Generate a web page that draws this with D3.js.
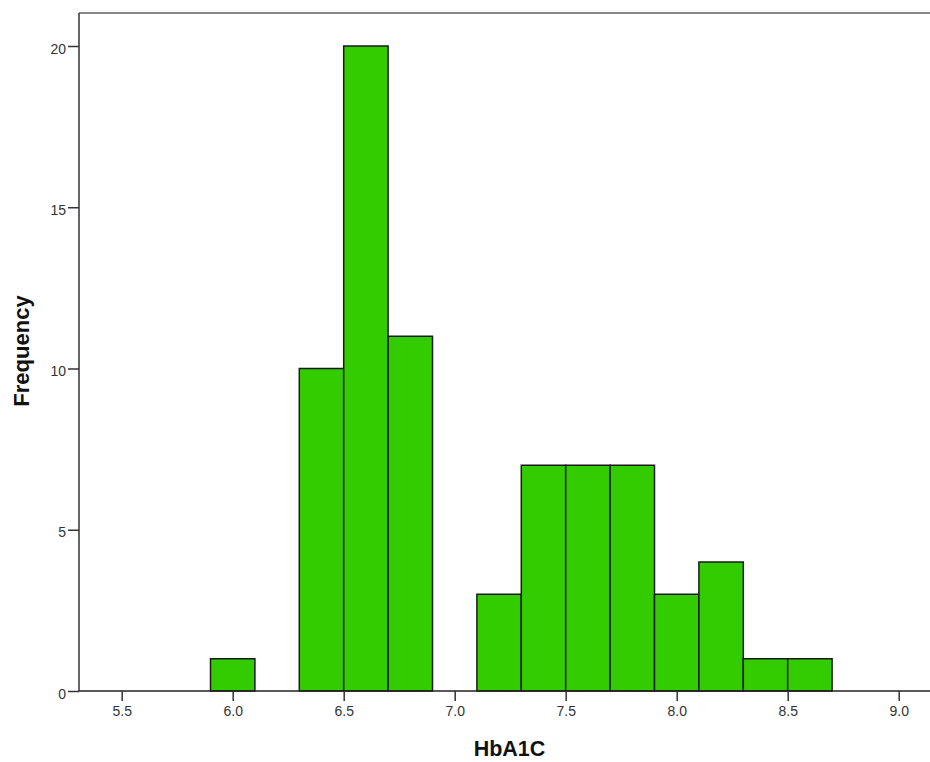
<!DOCTYPE html>
<html><head><meta charset="utf-8">
<script src="https://cdn.jsdelivr.net/npm/d3@7"></script>
<style>body{margin:0;background:#fff}svg{display:block}</style>
</head><body>
<svg id="c" width="930" height="762"></svg>
<script>
const binStarts = [5.9, 6.3, 6.5, 6.7, 7.1, 7.3, 7.5, 7.7, 7.9, 8.1, 8.3, 8.5];
const binWidth = 0.2;
const frequencies = [1, 10, 20, 11, 3, 7, 7, 7, 3, 4, 1, 1];
const xTicks = [5.5, 6.0, 6.5, 7.0, 7.5, 8.0, 8.5, 9.0];
const yTicks = [0, 5, 10, 15, 20];

(function () {
const svg = d3.select("#c");
const x = d3.scaleLinear().domain([5.5, 9.0]).range([121.7, 898.7]);
const y = d3.scaleLinear().domain([0, 20]).range([691, 46]);
const pL = 79, pT = 13, pR = 930, pB = 691;
const tickFont = "14px 'Liberation Sans', Arial, sans-serif";

// frame top
svg.append("line").attr("x1", pL).attr("x2", pR).attr("y1", pT).attr("y2", pT)
  .attr("stroke", "#888").attr("stroke-width", 2);

// bars
svg.append("g").selectAll("rect").data(binStarts).join("rect")
  .attr("x", d => x(d)).attr("width", d => x(d + binWidth) - x(d))
  .attr("y", (d, i) => y(frequencies[i])).attr("height", (d, i) => y(0) - y(frequencies[i]))
  .attr("fill", "#33cc00").attr("stroke", "#1a1a1a").attr("stroke-width", 1.5);

// y axis
const ya = svg.append("g").attr("transform", `translate(${pL},0)`)
  .call(d3.axisLeft(y).tickValues(yTicks).tickSize(11).tickPadding(2).tickFormat(d3.format("d")));
ya.select(".domain").attr("d", `M0,${pT}V${pB}`).attr("stroke", "#333").attr("stroke-width", 1.5);
ya.selectAll(".tick line").attr("stroke", "#333").attr("stroke-width", 1.5);
ya.selectAll(".tick text").attr("fill", "#333").attr("dy", "0.5em").style("font", tickFont);

// x axis
const xa = svg.append("g").attr("transform", `translate(0,${pB})`)
  .call(d3.axisBottom(x).tickValues(xTicks).tickSize(10).tickPadding(5).tickFormat(d3.format(".1f")));
xa.select(".domain").attr("d", `M${pL},0H${pR}`).attr("stroke", "#222").attr("stroke-width", 1.5);
xa.selectAll(".tick line").attr("stroke", "#333").attr("stroke-width", 1.5);
xa.selectAll(".tick text").attr("fill", "#333").style("font", tickFont);

// titles
svg.append("text").attr("x", 509.5).attr("y", 755.5).attr("text-anchor", "middle")
  .style("font", "bold 21.5px 'Liberation Sans', Arial, sans-serif").attr("fill", "#111").text("HbA1C");
svg.append("text").attr("transform", "translate(29,351) rotate(-90)").attr("text-anchor", "middle")
  .style("font", "bold 22px 'Liberation Sans', Arial, sans-serif").attr("fill", "#111").text("Frequency");
})();
</script>
</body></html>
